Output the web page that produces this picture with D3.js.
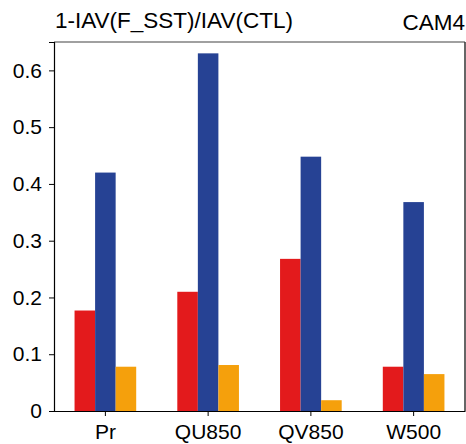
<!DOCTYPE html>
<html>
<head>
<meta charset="utf-8">
<script src="https://cdn.jsdelivr.net/npm/d3@7"></script>
<style>
  body { margin: 0; background: #fff; }
  text { font-family: "Liberation Sans", Arial, sans-serif; }
</style>
</head>
<body>
<div id="chart"></div>
<script>
// categories and the three series
var categories = ["Pr", "QU850", "QV850", "W500"];
var seriesNames = ["red", "blue", "orange"];
var redValues = [0.177, 0.210, 0.268, 0.078];
var blueValues = [0.420, 0.630, 0.448, 0.368];
var orangeValues = [0.078, 0.081, 0.019, 0.065];
var yTicks = [0, 0.1, 0.2, 0.3, 0.4, 0.5, 0.6];
var colors = ["#e31a1c", "#264294", "#f5a00c"];

var svgWidth = 466;
var svgHeight = 444;
var margin = { top: 42, right: 1, bottom: 33, left: 54 };
var width = svgWidth - margin.left - margin.right;
var height = svgHeight - margin.top - margin.bottom;

var svg = d3.select("#chart")
  .append("svg")
    .attr("width", svgWidth)
    .attr("height", svgHeight);

var g = svg.append("g")
  .attr("transform", "translate(" + margin.left + "," + margin.top + ")");

var x0 = d3.scaleBand()
  .domain(categories)
  .range([0, width]);

// three bars take 60% of each band, centred
var x1 = d3.scaleBand()
  .domain(seriesNames)
  .range([0, x0.bandwidth() * 0.6]);

var y = d3.scaleLinear()
  .domain([0, 0.65])
  .range([height, 0]);

var rows = categories.map(function(c, i) {
  return { cat: c, vals: [redValues[i], blueValues[i], orangeValues[i]] };
});

var groups = g.selectAll(".group")
  .data(rows)
  .enter()
  .append("g")
  .attr("transform", function(d) {
    return "translate(" + (x0(d.cat) + x0.bandwidth() * 0.2) + ",0)";
  });

groups.selectAll("rect")
  .data(function(d) { return d.vals; })
  .enter()
  .append("rect")
  .attr("x", function(d, i) { return x1(seriesNames[i]); })
  .attr("width", x1.bandwidth())
  .attr("y", function(d) { return y(d); })
  .attr("height", function(d) { return height - y(d); })
  .attr("fill", function(d, i) { return colors[i]; });

// frame: gray top and right, black left and bottom
g.append("line").attr("x1", 0).attr("x2", width).attr("y1", 0).attr("y2", 0)
  .attr("stroke", "#808080").attr("stroke-width", 1.5);
g.append("line").attr("x1", width).attr("x2", width).attr("y1", 0).attr("y2", height)
  .attr("stroke", "#333").attr("stroke-width", 1.5);

var yAxis = g.append("g")
  .call(d3.axisLeft(y).tickValues(yTicks).tickFormat(function(d) { return d === 0 ? "0" : d3.format(".1f")(d); }).tickSize(5).tickPadding(7));
yAxis.select(".domain").attr("stroke", "#000").attr("stroke-width", 1.2);
yAxis.selectAll("text").attr("font-size", 21).attr("fill", "#000");

var xAxis = g.append("g")
  .attr("transform", "translate(0," + height + ")")
  .call(d3.axisBottom(x0).tickSize(5).tickPadding(8).tickSizeOuter(0));
xAxis.select(".domain").attr("stroke", "#000").attr("stroke-width", 1.2);
xAxis.selectAll("text").attr("font-size", 21).attr("fill", "#000");

// titles
svg.append("text")
  .attr("x", 55)
  .attr("y", 28)
  .attr("font-size", 22.5)
  .text("1-IAV(F_SST)/IAV(CTL)");

svg.append("text")
  .attr("x", 465)
  .attr("y", 30)
  .attr("text-anchor", "end")
  .attr("font-size", 22.5)
  .text("CAM4");
</script>
</body>
</html>
